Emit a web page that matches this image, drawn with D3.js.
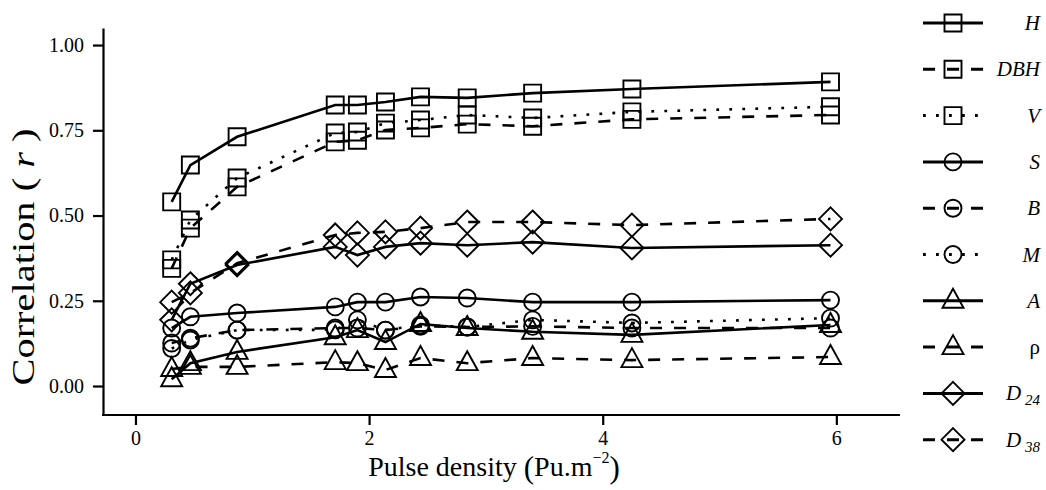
<!DOCTYPE html>
<html>
<head>
<meta charset="utf-8">
<script src="https://cdn.jsdelivr.net/npm/d3@7"></script>
<style>
  body { margin: 0; background: #fff; }
  text { font-family: "Liberation Serif", "Times New Roman", serif; fill: #000; }
</style>
</head>
<body>
<div id="chart"></div>
<script>
// pulse densities (x)
const pulseDensity = [0.31, 0.47, 0.87, 1.71, 1.90, 2.14, 2.44, 2.84, 3.40, 4.25, 5.95];

// correlation (r) per variable
const hValues   = [0.540, 0.648, 0.731, 0.824, 0.824, 0.833, 0.848, 0.845, 0.859, 0.871, 0.892];
const dbhValues = [0.345, 0.463, 0.584, 0.716, 0.721, 0.751, 0.757, 0.768, 0.762, 0.782, 0.795];
const vValues   = [0.370, 0.487, 0.610, 0.742, 0.745, 0.771, 0.780, 0.795, 0.786, 0.804, 0.819];
const sValues   = [0.170, 0.203, 0.214, 0.232, 0.246, 0.246, 0.261, 0.258, 0.246, 0.246, 0.252];
const bValues   = [0.126, 0.140, 0.164, 0.170, 0.170, 0.164, 0.175, 0.173, 0.175, 0.170, 0.170];
const mValues   = [0.110, 0.135, 0.164, 0.165, 0.194, 0.164, 0.179, 0.173, 0.194, 0.185, 0.199];
const aValues   = [0.020, 0.067, 0.100, 0.143, 0.164, 0.129, 0.182, 0.170, 0.159, 0.150, 0.179];
const rhoValues = [0.050, 0.056, 0.056, 0.070, 0.067, 0.047, 0.082, 0.067, 0.082, 0.076, 0.085];
const d24Values = [0.194, 0.300, 0.355, 0.408, 0.384, 0.408, 0.419, 0.413, 0.422, 0.405, 0.413];
const d38Values = [0.246, 0.273, 0.360, 0.443, 0.449, 0.452, 0.463, 0.481, 0.481, 0.472, 0.490];

const seriesNames  = ["H", "DBH", "V", "S", "B", "M", "A", "ρ", "D24", "D38"];
const seriesShapes = ["square", "square", "square", "circle", "circle", "circle", "triangle", "triangle", "diamond", "diamond"];
const seriesLines  = ["solid", "dashed", "dotted", "solid", "dashed", "dotted", "solid", "dashed", "solid", "dashed"];
const seriesValues = [hValues, dbhValues, vValues, sValues, bValues, mValues, aValues, rhoValues, d24Values, d38Values];

const xTicks = [0, 2, 4, 6];
const yTicks = [0, 0.25, 0.5, 0.75, 1];

const W = 1046, H = 490;
const panel = {left: 103, right: 900, top: 28, bottom: 415};

const svg = d3.select("#chart").append("svg")
    .attr("width", W).attr("height", H);

const x = d3.scaleLinear().domain([-0.278, 6.545]).range([panel.left, panel.right]);
const y = d3.scaleLinear().domain([-0.085, 1.05]).range([panel.bottom, panel.top]);

const dashes = {solid: null, dashed: "12,12", dotted: "2.8,10.2"};

// marker outlines, centred on 0,0
function shapePath(shape) {
    if (shape === "square") return "M-8.5,-8.5H8.5V8.5H-8.5Z";
    if (shape === "triangle") return "M0,-12L10.5,7H-10.5Z";
    if (shape === "diamond") return "M0,-11.5L11.5,0L0,11.5L-11.5,0Z";
    return "M8.5,0A8.5,8.5 0 1,1 -8.5,0A8.5,8.5 0 1,1 8.5,0Z";
}

// axes
const xAxis = d3.axisBottom(x).tickValues(xTicks).tickFormat(d3.format("d"))
    .tickSize(10).tickSizeOuter(0).tickPadding(6);
const yAxis = d3.axisLeft(y).tickValues(yTicks).tickFormat(d3.format(".2f"))
    .tickSize(10).tickSizeOuter(0).tickPadding(9);

const gx = svg.append("g").attr("transform", `translate(0,${panel.bottom})`).call(xAxis);
const gy = svg.append("g").attr("transform", `translate(${panel.left},0)`).call(yAxis);
[gx, gy].forEach(g => {
    g.select(".domain").attr("stroke-width", 2.2).attr("stroke", "#000");
    g.selectAll(".tick line").attr("stroke-width", 2.2).attr("stroke", "#000");
    g.selectAll(".tick text").attr("font-family", "Liberation Serif").attr("font-size", 20).attr("fill", "#000");
});
gx.select(".domain").attr("d", `M${panel.left - 1},0H${panel.right}`);

// lines
const line = d3.line().x((d, i) => x(pulseDensity[i])).y(d => y(d));
seriesValues.forEach((vals, k) => {
    svg.append("path")
        .datum(vals)
        .attr("fill", "none")
        .attr("stroke", "#000")
        .attr("stroke-width", 2.6)
        .attr("stroke-dasharray", dashes[seriesLines[k]])
        .attr("d", line);
});

// points
seriesValues.forEach((vals, k) => {
    svg.append("g").selectAll("path")
        .data(vals)
        .join("path")
        .attr("transform", (d, i) => `translate(${x(pulseDensity[i])},${y(d)})`)
        .attr("d", shapePath(seriesShapes[k]))
        .attr("fill", "none")
        .attr("stroke", "#000")
        .attr("stroke-width", 1.9);
});

// axis titles
const xl = svg.append("text")
    .attr("x", 494).attr("y", 476)
    .attr("text-anchor", "middle")
    .attr("font-size", 28);
xl.append("tspan").text("Pulse density  ");
xl.append("tspan").attr("font-size", 31).attr("font-weight", 300).attr("dy", 2).text("(");
xl.append("tspan").attr("dy", -2).text("Pu.m");
xl.append("tspan").attr("font-size", 16).attr("dy", -13).text("−2");
xl.append("tspan").attr("font-size", 31).attr("font-weight", 300).attr("dy", 15).text(")");

const yl = svg.append("text")
    .attr("transform", "translate(34,257) rotate(-90)")
    .attr("text-anchor", "middle")
    .attr("font-size", 32)
    .attr("textLength", 257)
    .attr("lengthAdjust", "spacingAndGlyphs");
yl.append("tspan").text("Correlation ( ");
yl.append("tspan").attr("font-style", "italic").text("r");
yl.append("tspan").text(" )");

// legend
const legend = svg.append("g");
seriesNames.forEach((name, k) => {
    const ly = 23 + k * 46.3;
    legend.append("line")
        .attr("x1", 923).attr("x2", 983).attr("y1", ly).attr("y2", ly)
        .attr("stroke", "#000").attr("stroke-width", 3)
        .attr("stroke-dasharray", dashes[seriesLines[k]]);
    legend.append("path")
        .attr("transform", `translate(953,${ly})`)
        .attr("d", shapePath(seriesShapes[k]))
        .attr("fill", "none").attr("stroke", "#000").attr("stroke-width", 1.9);
    const t = legend.append("text")
        .attr("x", 1040).attr("y", ly + 7)
        .attr("text-anchor", "end")
        .attr("font-size", 21);
    if (name === "D24" || name === "D38") {
        t.append("tspan").attr("font-style", "italic").text("D");
        t.append("tspan").attr("font-style", "italic").attr("font-size", 15).attr("dy", 5).text(" " + name.slice(1));
    } else if (name === "ρ") {
        t.text(name);
    } else {
        t.attr("font-style", "italic").text(name);
    }
});
</script>
</body>
</html>
